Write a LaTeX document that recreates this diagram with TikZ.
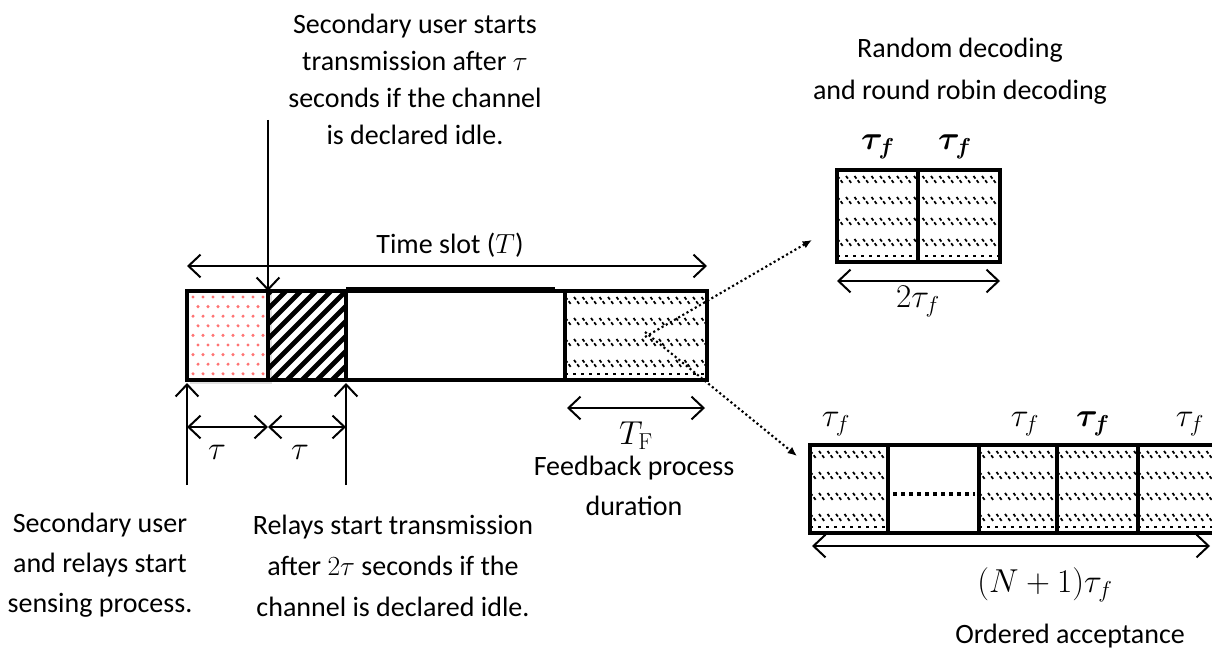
\documentclass[tikz,border=0pt]{standalone}
\usepackage{amsmath,bm}
\usepackage[no-math]{fontspec}
\setmainfont{Carlito}
\usetikzlibrary{arrows.meta}
\newcommand\fbhatch[4]{%
  \begin{scope}
    \clip (#1,#3) rectangle (#2,#4);
    \foreach \r in {10,31,52,73}{
      \foreach \xx in {-8,0.5,...,200}{
        \draw[line width=1.3pt,dash pattern=on 2.4pt off 1.6pt] (#1+\xx,#3+\r-4) -- ++(6,8);
      }
    }
    \draw[line width=1.4pt,dash pattern=on 2pt off 4pt] (#1,#4-6) -- (#2,#4-6);
  \end{scope}}
\begin{document}
\begin{tikzpicture}[x=0.75pt,y=-0.75pt,
  txt/.style={align=center,inner sep=0pt,font=\fontsize{21}{30}\selectfont},
  lbl/.style={inner sep=0pt,font=\fontsize{23.5}{25}\selectfont},
  dbl/.style={line width=1.5pt,{Straight Barb[length=9pt,width=17pt]}-{Straight Barb[length=9pt,width=17pt]}},
  sgl/.style={line width=1.5pt,-{Straight Barb[length=9pt,width=17pt]}},
  dotarrow/.style={line width=1.6pt,dotted,-{Latex[length=7pt,width=6pt]}},
  frame/.style={line width=3.5pt},
  ]
\useasboundingbox (0,0) rectangle (1212,652);

% ---------- main time slot bar ----------
\fill[black!12] (190,294) rectangle (272,384);
\fill[white] (187,291) rectangle (268,380);
\foreach \j in {0,...,8}{
  \pgfmathsetmacro\off{mod(\j,2)*5}
  \foreach \i in {0,...,7}{
    \fill[red!55] (193+\off+\i*10,297+\j*9.6) circle (1.7);
  }
}
\begin{scope}
  \clip (268,291) rectangle (346,380);
  \foreach \s in {-120,-105,...,90}{
    \draw[line width=3.6pt] (268+\s,384) -- ++(110,-110);
  }
\end{scope}
\fbhatch{565}{707}{291}{380}
\draw[frame] (187,291) rectangle (707,380);
\draw[frame] (268,291) -- (268,380);
\draw[frame] (346,291) -- (346,380);
\draw[frame] (565,291) -- (565,380);
\draw[line width=5pt] (346,290) -- (555,290);

\coordinate (slotM) at (268,291);
\coordinate (fbin1) at (645,337);
\coordinate (fbin2) at (645,332);

\coordinate (tsL) at (187,266);
\coordinate (tsR) at (707,266);
\draw[dbl] (tsL) -- (tsR);
\node[txt] (tslabel) at (450,245) {Time slot ($T$)};

\coordinate (topA) at (268,120);
\draw[sgl] (topA) -- (slotM);
\node[txt,font=\fontsize{21}{27.75}\selectfont] (toptext) at (415,79) {Secondary user starts\\transmission after $\tau$\\seconds if the channel\\is declared idle.};

\coordinate (bl0) at (187,485);
\coordinate (bl1) at (187,383);
\coordinate (br0) at (346,485);
\coordinate (br1) at (346,383);
\draw[sgl] (bl0) -- (bl1);
\draw[sgl] (br0) -- (br1);
\coordinate (t0) at (187,427);
\coordinate (t1) at (268,427);
\coordinate (t2) at (346,427);
\draw[dbl] (t0) -- (t1);
\draw[dbl] (t1) -- (t2);
\node[lbl] (tau1) at (217,452) {$\tau$};
\node[lbl] (tau2) at (300,452) {$\tau$};

\node[txt] (sens) at (100,565) {Secondary user\\and relays start\\sensing process.};
\node[txt,font=\fontsize{21}{31}\selectfont] (relays) at (393,566) {Relays start transmission\\after $2\tau$ seconds if the\\channel is declared idle.};

\coordinate (tfL) at (567,408);
\coordinate (tfR) at (705,408);
\draw[dbl] (tfL) -- (tfR);
\node[lbl] (tflabel) at (636,436) {$T_{\mathrm{F}}$};
\node[txt] (fbtext) at (634,486) {Feedback process\\duration};

% ---------- top-right box ----------
\fbhatch{837}{1000}{170}{262}
\draw[frame] (837,170) rectangle (1000,262);
\draw[line width=3pt] (918,170) -- (918,262);
\coordinate (rbL) at (837,281);
\coordinate (rbR) at (1000,281);
\draw[dbl] (rbL) -- (rbR);
\node[lbl] (rtf1) at (878,147) {$\bm{\tau_f}$};
\node[lbl] (rtf2) at (955,147) {$\bm{\tau_f}$};
\node[lbl] (r2tf) at (918,302) {$2\tau_f$};
\node[txt,font=\fontsize{21}{31.5}\selectfont] (rtext) at (960,71) {Random decoding\\and round robin decoding};
\coordinate (rbin) at (812,240);
\draw[dotarrow] (fbin1) -- (rbin);

% ---------- bottom-right box ----------
\fbhatch{810}{888}{445}{533}
\fbhatch{979}{1057}{445}{533}
\fbhatch{1057}{1138}{445}{533}
\fbhatch{1138}{1212}{445}{533}
\draw[frame] (1212,445) -- (810,445) -- (810,533) -- (1212,533);
\draw[line width=3pt] (888,445) -- (888,533);
\draw[line width=3pt] (979,445) -- (979,533);
\draw[line width=3pt] (1057,445) -- (1057,533);
\draw[line width=3pt] (1138,445) -- (1138,533);
\coordinate (dL) at (893,494);
\coordinate (dR) at (975,494);
\draw[line width=3pt,dash pattern=on 3pt off 3pt] (dL) -- (dR);
\coordinate (obL) at (812,546);
\coordinate (obR) at (1210,546);
\draw[dbl] (obL) -- (obR);
\node[lbl] (otf1) at (836,424) {$\tau_f$};
\node[lbl] (otf2) at (1025,424) {$\tau_f$};
\node[lbl] (otf3) at (1093,424) {$\bm{\tau_f}$};
\node[lbl] (otf4) at (1190,424) {$\tau_f$};
\node[lbl] (onp) at (1045,585) {$(N+1)\tau_f$};
\node[txt] (otext) at (1070,636) {Ordered acceptance};
\coordinate (obin) at (797,456);
\draw[dotarrow] (fbin2) -- (obin);
\end{tikzpicture}
\end{document}
